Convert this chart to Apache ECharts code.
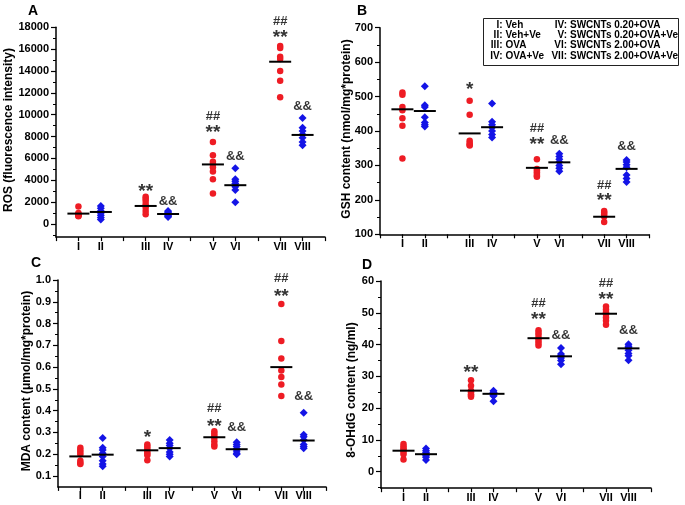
<!DOCTYPE html>
<html><head><meta charset="utf-8">
<script src="https://cdn.jsdelivr.net/npm/echarts@6/dist/echarts.min.js"></script>
<style>html,body{margin:0;padding:0;background:#fff}#c{width:685px;height:505px}</style>
</head><body><div id="c"></div>
<script>
const FONT = '"Liberation Sans", Arial, sans-serif';
const groupLabels = ['I','II','III','IV','V','VI','VII','VIII'];
const groupX = [1,2,4,5,7,8,10,11];

// Panel A: ROS
const rosPoints = [
  [1600,1000,900,850,800,750,700],
  [1650,1450,1200,1000,800,600,400],
  [2500,2300,2100,1800,1500,1200,900],
  [1200,1100,1000,900,800,700,650],
  [7500,6300,5700,5500,5200,4800,4100,2800],
  [5100,4100,3900,3700,3400,3100,2000],
  [16300,16100,15300,15100,14000,13100,11600],
  [9700,8800,8500,8200,7900,7500,7200]
];
const rosMeans = [950,1100,1650,915,5450,3550,14850,8150];
const rosMarks = [[2,3400,'**'],[3,2040,'&&'],[4,9820,'##'],[4,8815,'**'],[5,6220,'&&'],[6,18580,'##'],[6,17545,'**'],[7,10740,'&&']];
const rosTicks = [0,2000,4000,6000,8000,10000,12000,14000,16000,18000];
const rosMinor = [-1000,1000,3000,5000,7000,9000,11000,13000,15000,17000];

// Panel B: GSH
const gshPoints = [
  [512,505,470,460,437,415,320],
  [530,475,470,440,425,418,413],
  [488,447,372,365,360,358],
  [480,427,418,410,400,390,381],
  [318,290,285,280,275,270,267],
  [334,326,318,310,300,292,283],
  [168,163,158,152,136],
  [316,310,302,295,272,262,252]
];
const gshMeans = [463,458,393,411,293,309,151,290];
const gshMarks = [[2,534,'*'],[4,408,'##'],[4,374,'**'],[5,372,'&&'],[6,243,'##'],[6,211,'**'],[7,354,'&&']];
const gshTicks = [100,200,300,400,500,600,700];
const gshMinor = [150,250,350,450,550,650];

// Panel C: MDA
const mdaPoints = [
  [0.23,0.22,0.21,0.20,0.17,0.16,0.155],
  [0.275,0.23,0.22,0.205,0.19,0.17,0.155,0.145],
  [0.245,0.235,0.225,0.215,0.205,0.195,0.172],
  [0.265,0.25,0.24,0.228,0.21,0.2,0.19],
  [0.305,0.295,0.285,0.275,0.26,0.245,0.235],
  [0.255,0.245,0.235,0.225,0.215,0.205,0.2],
  [0.89,0.72,0.64,0.585,0.555,0.52,0.467],
  [0.39,0.29,0.28,0.265,0.245,0.235,0.228]
];
const mdaMeans = [0.19,0.198,0.218,0.228,0.278,0.223,0.6,0.263];
const mdaMarks = [[2,0.299,'*'],[4,0.41,'##'],[4,0.349,'**'],[5,0.322,'&&'],[6,1.007,'##'],[6,0.945,'**'],[7,0.464,'&&']];
const mdaTicks = [0.1,0.2,0.3,0.4,0.5,0.6,0.7,0.8,0.9,1.0];
const mdaMinor = [0.15,0.25,0.35,0.45,0.55,0.65,0.75,0.85,0.95];

// Panel D: 8-OHdG
const ohdgPoints = [
  [8.7,8.0,7.4,6.8,6.2,5.5,3.8],
  [7.3,6.6,6.0,5.5,5.0,4.5,3.7],
  [28.8,27.0,25.5,25.0,24.4,24.0,23.6],
  [25.5,25.0,24.8,24.5,24.0,23.8,22.2],
  [44.5,43.7,43.0,42.0,41.2,40.5,39.7],
  [38.9,37.0,36.5,35.8,35.0,33.8],
  [52.0,51.0,50.2,49.5,48.5,47.5,46.2],
  [40.1,39.5,39.0,38.2,37.2,36.5,35.1]
];
const ohdgMeans = [6.6,5.5,25.5,24.5,42.0,36.3,49.7,38.8];
const ohdgMarks = [[2,32.8,'**'],[4,53,'##'],[4,49.3,'**'],[5,43,'&&'],[6,59.3,'##'],[6,55.8,'**'],[7,44.3,'&&']];
const ohdgTicks = [0,10,20,30,40,50,60];
const ohdgMinor = [-5,5,15,25,35,45,55];

const legendLeft = ['I: Veh','II: Veh+Ve','III: OVA','IV: OVA+Ve'];
const legendRight = ['IV: SWCNTs 0.20+OVA','V: SWCNTs 0.20+OVA+Ve','VI: SWCNTs 2.00+OVA','VII: SWCNTs 2.00+OVA+Ve'];

const RED = '#ee1c24', BLUE = '#1414e6';

const panels = [
  {grid:{left:56,top:27.3,width:269,height:209.8}, min:-1200, max:18000, ticks:rosTicks, minor:rosMinor, fmt:v=>String(v), points:rosPoints, means:rosMeans, marks:rosMarks},
  {grid:{left:380,top:27.7,width:269,height:206.6}, min:100, max:700, ticks:gshTicks, minor:gshMinor, fmt:v=>String(v), points:gshPoints, means:gshMeans, marks:gshMarks},
  {grid:{left:58,top:280,width:268,height:206.9}, min:0.05, max:1.0, ticks:mdaTicks, minor:mdaMinor, fmt:v=>v.toFixed(1), points:mdaPoints, means:mdaMeans, marks:mdaMarks},
  {grid:{left:381,top:281,width:270,height:207.2}, min:-5.2, max:60, ticks:ohdgTicks, minor:ohdgMinor, fmt:v=>String(v), points:ohdgPoints, means:ohdgMeans, marks:ohdgMarks}
];

const grids=[], xAxes=[], yAxes=[], series=[];
const axisLineStyle = {color:'#000', width:1.5};
panels.forEach((p,i)=>{
  grids.push(Object.assign({containLabel:false}, p.grid));
  xAxes.push({type:'value', gridIndex:i, min:0, max:12, interval:1,
    axisLine:{show:true, onZero:false, lineStyle:axisLineStyle},
    axisTick:{show:true, length:4, lineStyle:{color:'#000', width:1.2}},
    axisLabel:{margin:4, color:'#000', fontSize:11, fontWeight:'bold', fontFamily:FONT,
      formatter:v=>{const k=groupX.indexOf(v); return k>=0?groupLabels[k]:'';}},
    splitLine:{show:false}});
  yAxes.push({type:'value', gridIndex:i, min:p.min, max:p.max,
    axisLine:{show:true, onZero:false, lineStyle:axisLineStyle},
    axisTick:{show:true, length:5, customValues:p.ticks, lineStyle:{color:'#000', width:1.2}},
    axisLabel:{customValues:p.ticks, margin:7, color:'#000', fontSize:11, fontWeight:'bold', fontFamily:FONT, formatter:p.fmt},
    splitLine:{show:false}});
  yAxes.push({type:'value', gridIndex:i, min:p.min, max:p.max, position:'left',
    axisLine:{show:false},
    axisTick:{show:true, length:3, customValues:p.minor, lineStyle:{color:'#000', width:1}},
    axisLabel:{show:false}, splitLine:{show:false}});
  const redData=[], blueData=[];
  p.points.forEach((arr,g)=>{arr.forEach(v=>{(g%2===0?redData:blueData).push([groupX[g], v]);});});
  series.push({type:'scatter', xAxisIndex:i, yAxisIndex:2*i, data:redData, symbol:'circle', symbolSize:6.5,
    itemStyle:{color:RED, opacity:1}, clip:false, z:2});
  series.push({type:'scatter', xAxisIndex:i, yAxisIndex:2*i, data:blueData, symbol:'diamond', symbolSize:[8,8],
    itemStyle:{color:BLUE, opacity:1}, clip:false, z:2});
  series.push({type:'scatter', xAxisIndex:i, yAxisIndex:2*i, data:p.means.map((m,g)=>[groupX[g], m]),
    symbol:'rect', symbolSize:[22,2], itemStyle:{color:'#000', opacity:1}, clip:false, z:5});
  series.push({type:'scatter', xAxisIndex:i, yAxisIndex:2*i, clip:false, z:6,
    symbolSize:1, itemStyle:{color:'rgba(0,0,0,0)'},
    label:{show:true, position:'inside', color:'#000', fontFamily:FONT, fontWeight:'bold',
      formatter:q=>q.value[2]},
    data:p.marks.map(m=>({value:[groupX[m[0]], m[1], m[2]],
      label: m[2].indexOf('*')>=0 ? {fontSize:19, offset:[0,5]} : {fontSize:13}}))
  });
});

const graphic = [];
const letters = [['A',33,11],['B',362,11],['C',36,263],['D',367,265]];
letters.forEach(l=>graphic.push({type:'text', x:l[1], y:l[2], style:{text:l[0], fill:'#000', font:'bold 14px '+FONT, textAlign:'center', textVerticalAlign:'middle'}}));
const titles = [['ROS (fluorescence intensity)',9,130],['GSH content (nmol/mg*protein)',347,129],['MDA content (\u03bcmol/mg*protein)',27,381],['8-OHdG content (ng/ml)',352,390]];
titles.forEach(t=>graphic.push({type:'text', x:t[1], y:t[2], rotation:Math.PI/2, style:{text:t[0], fill:'#000', font:'bold 12px '+FONT, textAlign:'center', textVerticalAlign:'middle'}}));
graphic.push({type:'rect', shape:{x:483.5, y:18.5, width:195, height:47}, style:{fill:'#fff', stroke:'#222', lineWidth:1}, z:10});
function legendCol(lines, colonX){
  lines.forEach((s,k)=>{
    const idx = s.indexOf(':');
    const y = 25 + k*10.3;
    graphic.push({type:'text', x:colonX, y:y, z:11, style:{text:s.slice(0,idx+1), fill:'#000', font:'bold 10px '+FONT, textAlign:'right', textVerticalAlign:'middle'}});
    graphic.push({type:'text', x:colonX+3, y:y, z:11, style:{text:s.slice(idx+2), fill:'#000', font:'bold 10px '+FONT, textAlign:'left', textVerticalAlign:'middle'}});
  });
}
legendCol(legendLeft, 502.5);
legendCol(legendRight, 567);

const chart = echarts.init(document.getElementById('c'), null, {renderer:'canvas'});
chart.setOption({animation:false, backgroundColor:'#fff', grid:grids, xAxis:xAxes, yAxis:yAxes, series:series, graphic:graphic});
</script></body></html>
